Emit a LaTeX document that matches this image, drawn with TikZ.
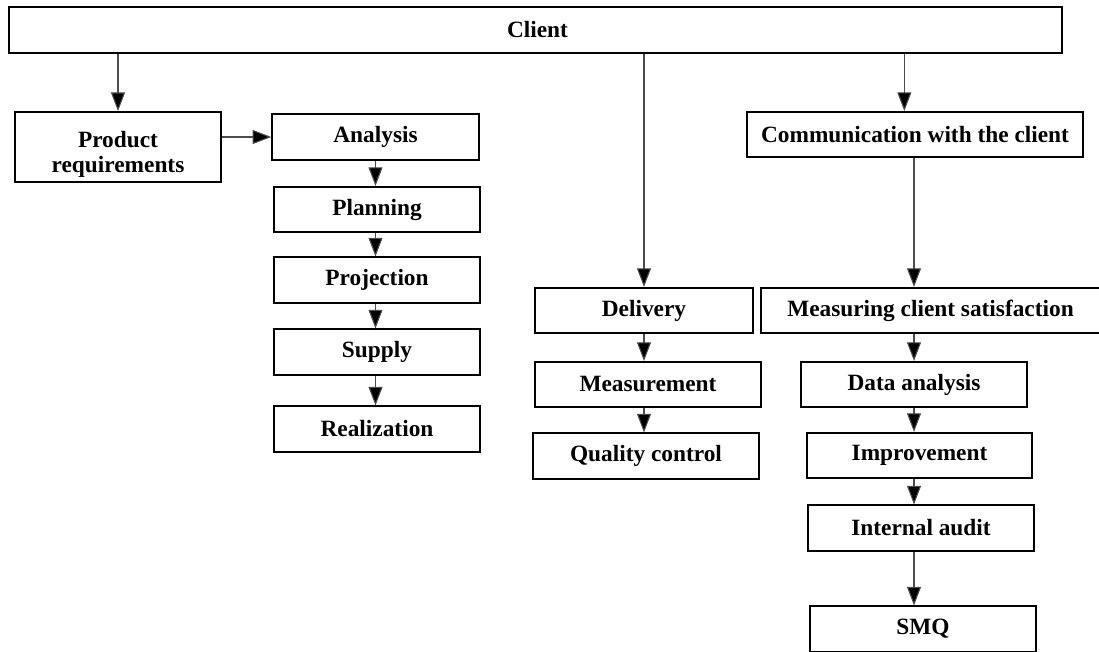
\documentclass[tikz,border=0pt]{standalone}
\usepackage{fontspec}
\setmainfont{Liberation Serif}
\usetikzlibrary{arrows.meta}

\begin{document}
\begin{tikzpicture}[x=0.75pt, y=-0.75pt]
  \tikzstyle{box} = [draw=black, line width=1.3pt, inner sep=0pt, minimum height=34pt,
                     font=\fontsize{17.5}{19}\selectfont\bfseries, align=center]
  \tikzstyle{arr} = [draw=black!70, line width=0.8pt, -{Triangle[length=14pt, width=10.5pt, fill=black]}]

  \useasboundingbox (0,0) rectangle (1099,652);

  % top
  \node[box, minimum width=790pt] (client) at (535.5,30) {\hspace*{3pt}Client};

  % left column
  \node[box, minimum width=154.5pt, minimum height=52.5pt] (prod) at (118,147)
    {\raisebox{-6pt}[\height][\depth]{\begin{tabular}{@{}c@{}}Product\\requirements\end{tabular}}};
  \node[box, minimum width=155pt] (ana) at (375.5,137) {Analysis};
  \node[box, minimum width=154.5pt] (plan) at (377,209.5) {Planning};
  \node[box, minimum width=154.5pt] (proj) at (377,280) {Projection};
  \node[box, minimum width=154.5pt] (supp) at (377,352) {Supply};
  \node[box, minimum width=154.5pt] (real) at (377,429) {Realization};

  % middle column
  \node[box, minimum width=163.5pt] (deli) at (644,310.5) {Delivery};
  \node[box, minimum width=169.5pt] (meas) at (648,384.5) {Measurement};
  \node[box, minimum width=169.5pt] (qual) at (646,456) {Quality control};

  % right column
  \node[box, minimum width=252pt] (comm) at (915,134.5) {Communication with the client};
  \node[box, minimum width=254pt] (msat) at (930.5,310.5) {Measuring client satisfaction};
  \node[box, minimum width=169.5pt] (data) at (914,384.5) {Data analysis};
  \node[box, minimum width=169pt] (impr) at (919.5,455.5) {Improvement};
  \node[box, minimum width=169.5pt] (audit) at (921,528) {Internal audit};
  \node[box, minimum width=169.5pt] (smq) at (923,629) {SMQ};

  % connectors
  \draw[arr] (client.south -| prod.north) -- (prod.north);
  \draw[arr] (prod.east |- ana.west) -- (ana.west);
  \draw[arr] (client.south -| deli.north) -- (deli.north);
  \draw[arr] ([xshift=-8pt]comm.north |- client.south) -- ([xshift=-8pt]comm.north);
  \draw[arr] (comm.south -| data.north) -- (msat.north -| data.north);

  \foreach \a / \b in {ana/plan, plan/proj, proj/supp, supp/real} {
    \draw[arr] (\a.south -| ana.south) -- (\b.north -| ana.south);
  }
  \foreach \a / \b in {deli/meas, meas/qual} {
    \draw[arr] (\a.south -| deli.south) -- (\b.north -| deli.south);
  }
  \foreach \a / \b in {msat/data, data/impr, impr/audit, audit/smq} {
    \draw[arr] (\a.south -| data.north) -- (\b.north -| data.north);
  }

\end{tikzpicture}
\end{document}
